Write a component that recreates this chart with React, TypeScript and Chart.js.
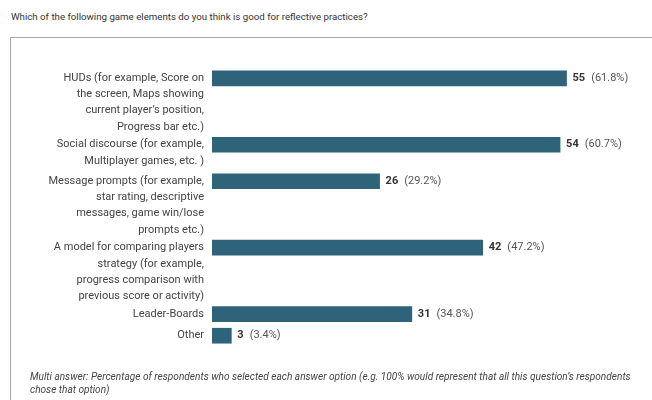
import React, { useEffect, useRef } from "react";
import { Chart, registerables } from "chart.js";

Chart.register(...registerables);

const TITLE = "Which of the following game elements do you think is good for reflective practices?";
const FOOTNOTE_1 =
  "Multi answer: Percentage of respondents who selected each answer option (e.g. 100% would represent that all this question\u2019s respondents";
const FOOTNOTE_2 = "chose that option)";

const categories: string[][] = [
  ["HUDs (for example, Score on", "the screen, Maps showing", "current player\u2019s position,", "Progress bar etc.)"],
  ["Social discourse (for example,", "Multiplayer games, etc. )"],
  ["Message prompts (for example,", "star rating, descriptive", "messages, game win/lose", "prompts etc.)"],
  ["A model for comparing players", "strategy (for example,", "progress comparison with", "previous score or activity)"],
  ["Leader-Boards"],
  ["Other"],
];
const counts: number[] = [55, 54, 26, 42, 31, 3];
const percents: string[] = ["61.8%", "60.7%", "29.2%", "47.2%", "34.8%", "3.4%"];

const ROW_LINE = 16.6;
const ROW_GAP = 7.4;
const LABEL_LINE = 16.2;
const BAR_COLOR = "#2f6379";
const FONT = "Roboto, 'Noto Sans', Arial, sans-serif";

function rowPositions(): number[] {
  let p = 0;
  return categories.map((c) => {
    const v = p;
    p += c.length * ROW_LINE + ROW_GAP;
    return v;
  });
}

const labelPlugin = {
  id: "rowLabels",
  afterDatasetsDraw(chart: any) {
    const ctx = chart.ctx;
    const meta = chart.getDatasetMeta(0);
    const area = chart.chartArea;
    ctx.save();
    ctx.textBaseline = "middle";
    meta.data.forEach((bar: any, i: number) => {
      const y = bar.y;
      ctx.font = `11px ${FONT}`;
      ctx.fillStyle = "#444";
      ctx.textAlign = "right";
      categories[i].forEach((line, j) => {
        ctx.fillText(line, area.left - 8, y + j * LABEL_LINE);
      });
      ctx.textAlign = "left";
      ctx.font = `bold 11px ${FONT}`;
      ctx.fillStyle = "#333";
      const x0 = bar.x + 6;
      const txt = String(counts[i]);
      ctx.fillText(txt, x0, y);
      const w = ctx.measureText(txt).width;
      ctx.font = `11px ${FONT}`;
      ctx.fillStyle = "#555";
      ctx.fillText(`(${percents[i]})`, x0 + w + 6, y);
    });
    ctx.restore();
  },
};

function BarChart() {
  const ref = useRef<HTMLCanvasElement | null>(null);
  useEffect(() => {
    document.body.style.margin = "0";
    if (!ref.current) return;
    const pos = rowPositions();
    const chart = new Chart(ref.current, {
      type: "bar",
      data: {
        datasets: [
          {
            data: counts.map((v, i) => ({ x: v, y: pos[i] })) as any,
            backgroundColor: BAR_COLOR,
            borderWidth: 0,
            barThickness: 15,
          },
        ],
      },
      options: {
        indexAxis: "y",
        responsive: false,
        animation: false,
        devicePixelRatio: 1,
        layout: { padding: { left: 212, right: 21, top: 0, bottom: 0 } },
        scales: {
          x: { type: "linear", min: 0, max: 65, display: false },
          y: { type: "linear", min: -64.8, max: 335.2, reverse: true, display: false },
        },
        plugins: {
          legend: { display: false },
          tooltip: { enabled: false },
          title: { display: false },
        },
      },
      plugins: [labelPlugin],
    });
    return () => chart.destroy();
  }, []);
  return (
    <canvas
      ref={ref}
      width={652}
      height={400}
      style={{ position: "absolute", left: 0, top: 0, width: 652, height: 400 }}
    />
  );
}

export default function App() {
  return (
    <div
      style={{
        position: "relative",
        width: 652,
        height: 400,
        overflow: "hidden",
        background: "#fff",
        fontFamily: FONT,
      }}
    >
      <div
        style={{
          position: "absolute",
          left: 11,
          top: 9,
          fontSize: 9.7,
          lineHeight: "16px",
          color: "#333",
          whiteSpace: "nowrap",
        }}
      >
        {TITLE}
      </div>
      <div
        style={{
          position: "absolute",
          left: 10,
          top: 37,
          width: 700,
          height: 400,
          border: "1px solid #aaa",
          boxSizing: "border-box",
        }}
      />
      <BarChart />
      <div
        style={{
          position: "absolute",
          left: 30,
          top: 370,
          fontSize: 10.1,
          lineHeight: "13px",
          fontStyle: "italic",
          color: "#444",
          whiteSpace: "nowrap",
        }}
      >
        {FOOTNOTE_1}
        <br />
        {FOOTNOTE_2}
      </div>
    </div>
  );
}
